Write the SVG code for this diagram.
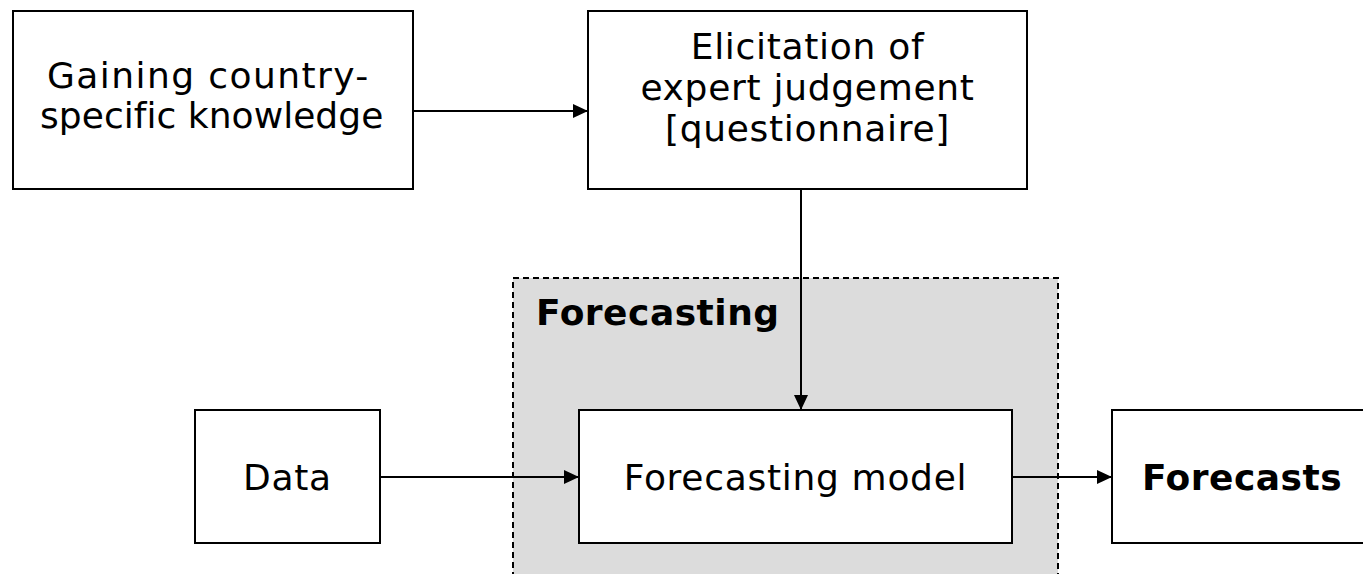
<svg xmlns="http://www.w3.org/2000/svg" width="1363" height="574" viewBox="0 0 1363 574">
<style>
.box{fill:#fff;stroke:#000;stroke-width:2}
.t{font-family:"DejaVu Sans","Verdana",sans-serif;font-size:36px;fill:#000;text-anchor:middle;letter-spacing:0.7px}
.b{font-weight:bold;letter-spacing:0.5px}
.c{stroke:#000;stroke-width:2;fill:none}
</style>
<defs>
<marker id="ah" markerWidth="15" markerHeight="14" refX="15" refY="7" orient="auto" markerUnits="userSpaceOnUse">
<path d="M0,0 L15,7 L0,14 Z" fill="#000"/>
</marker>
</defs>
<g id="forecasting-group">
<rect x="513" y="278" width="545" height="310" fill="#dcdcdc" stroke="#000" stroke-width="2" stroke-dasharray="6,4"/>
<text class="t b" x="536" y="325" style="text-anchor:start">Forecasting</text>
</g>
<g id="connectors">
<line class="c" x1="413" y1="111" x2="588" y2="111" marker-end="url(#ah)"/>
<line class="c" x1="801" y1="189" x2="801" y2="410" marker-end="url(#ah)"/>
<line class="c" x1="380" y1="477" x2="579" y2="477" marker-end="url(#ah)"/>
<line class="c" x1="1012" y1="477" x2="1112" y2="477" marker-end="url(#ah)"/>
</g>
<g id="gaining">
<rect class="box" x="13" y="11" width="400" height="178"/>
<text class="t" x="208" y="88" textLength="322" lengthAdjust="spacing">Gaining country-</text>
<text class="t" x="212" y="128" textLength="344" lengthAdjust="spacing">specific knowledge</text>
</g>
<g id="elicitation">
<rect class="box" x="588" y="11" width="439" height="178"/>
<text class="t" x="807.5" y="59">Elicitation of</text>
<text class="t" x="807.5" y="100">expert judgement</text>
<text class="t" x="807.5" y="141">[questionnaire]</text>
</g>
<g id="data">
<rect class="box" x="195" y="410" width="185" height="133"/>
<text class="t" x="287.5" y="490">Data</text>
</g>
<g id="model">
<rect class="box" x="579" y="410" width="433" height="133"/>
<text class="t" x="795.5" y="490">Forecasting model</text>
</g>
<g id="forecasts">
<rect class="box" x="1112" y="410" width="260" height="133"/>
<text class="t b" x="1242" y="490">Forecasts</text>
</g>
</svg>
